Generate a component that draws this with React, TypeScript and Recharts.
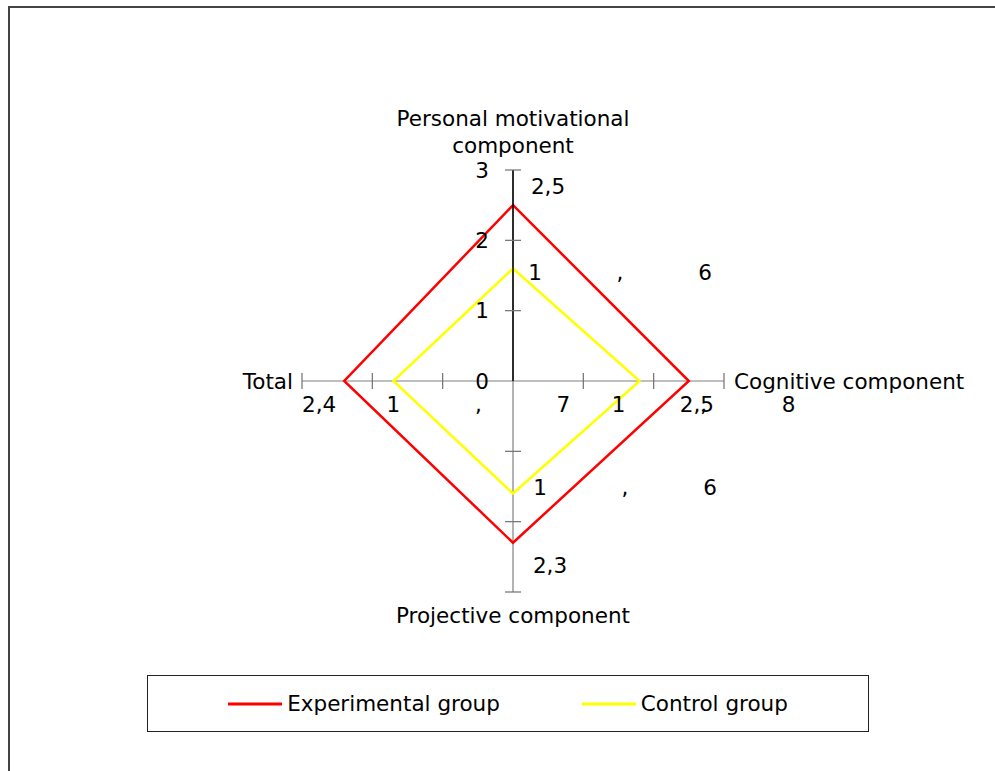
import { RadarChart, Radar, PolarGrid, PolarAngleAxis, PolarRadiusAxis, Legend } from 'recharts'

const categories = [
  'Personal motivational component',
  'Cognitive component',
  'Projective component',
  'Total',
]
const experimental = [2.5, 2.5, 2.3, 2.4]
const control = [1.6, 1.8, 1.6, 1.7]
const seriesNames = ['Experimental group', 'Control group']
const radiusDomain = [0, 3]

const data = categories.map((category, i) => ({
  category,
  experimental: experimental[i],
  control: control[i],
}))

const FONT = '"DejaVu Sans", sans-serif'
const FS = 21.5
const CX = 503
const CY = 373
const R = 211
const GREY = '#808080'

const fmt = (v: number) => String(v).replace('.', ',')

// label offsets from each point, per axis (top, right, bottom, left)
const expOffsets = [[35, -19], [8, 23], [37, 23], [-25, 23]]
const ctrlOffsets = [[22, 4], [-21, 23], [27, -6], [0, 23]]
const CHAR_GAP = 85

const ExpLabel = (props: any) => {
  const { x, y, value, index } = props
  const [dx, dy] = expOffsets[index] ?? [0, 0]
  return (
    <text x={x + dx} y={y + dy} textAnchor="middle" dominantBaseline="central" fontFamily={FONT} fontSize={FS} fill="#000">
      {fmt(value)}
    </text>
  )
}

// the control labels come out spread apart in the original
const CtrlLabel = (props: any) => {
  const { x, y, value, index } = props
  const [dx, dy] = ctrlOffsets[index] ?? [0, 0]
  return (
    <g>
      {fmt(value).split('').map((ch, k) => (
        <text key={k} x={x + dx + k * CHAR_GAP} y={y + dy} textAnchor="middle" dominantBaseline="central" fontFamily={FONT} fontSize={FS} fill="#000">
          {ch}
        </text>
      ))}
    </g>
  )
}

const RadiusTick = (props: any) => {
  const { y, payload } = props
  const r = payload.coordinate
  const t = 8
  return (
    <g>
      {r > 0 && (
        <g stroke="#707070" strokeWidth={1.2}>
          <line x1={CX - t} y1={CY - r} x2={CX + t} y2={CY - r} />
          <line x1={CX - t} y1={CY + r} x2={CX + t} y2={CY + r} />
          <line x1={CX + r} y1={CY - t} x2={CX + r} y2={CY + t} />
          <line x1={CX - r} y1={CY - t} x2={CX - r} y2={CY + t} />
        </g>
      )}
      <text x={CX - 31} y={y} textAnchor="middle" dominantBaseline="central" fontFamily={FONT} fontSize={FS} fill="#000">
        {payload.value}
      </text>
    </g>
  )
}

const AngleTick = (props: any) => {
  const { payload, index } = props
  const common = { fontFamily: FONT, fontSize: FS, fill: '#000', dominantBaseline: 'central' as const }
  if (index === 0) {
    return (
      <text x={CX} y={CY - R} textAnchor="middle" {...common}>
        <tspan x={CX} dy={-52}>Personal motivational</tspan>
        <tspan x={CX} dy={27}>component</tspan>
      </text>
    )
  }
  if (index === 1) return <text x={CX + R + 10} y={CY} textAnchor="start" {...common}>{payload.value}</text>
  if (index === 2) return <text x={CX} y={CY + R + 23} textAnchor="middle" {...common}>{payload.value}</text>
  return <text x={CX - R - 9} y={CY} textAnchor="end" {...common}>{payload.value}</text>
}

const LegendBox = (props: any) => {
  const items = [...(props.payload ?? [])].sort(
    (a: any, b: any) => seriesNames.indexOf(a.value) - seriesNames.indexOf(b.value),
  )
  return (
    <div style={{
      boxSizing: 'border-box', width: 722, height: 57, border: '1px solid #222',
      display: 'flex', alignItems: 'center', justifyContent: 'center', gap: 82,
      fontFamily: FONT, fontSize: FS, color: '#000',
    }}>
      {items.map((it: any) => (
        <div key={it.value} style={{ display: 'flex', alignItems: 'center' }}>
          <svg width={54} height={4}><line x1={0} y1={2} x2={54} y2={2} stroke={it.color} strokeWidth={3} /></svg>
          <span style={{ marginLeft: 5 }}>{it.value}</span>
        </div>
      ))}
    </div>
  )
}

export default function App() {
  return (
    <div style={{
      position: 'absolute', left: 8, top: 6, width: 987, height: 765, boxSizing: 'border-box',
      borderLeft: '2px solid #444', borderTop: '2px solid #444', background: '#fff',
    }}>
      <RadarChart width={980} height={760} data={data} cx={CX} cy={CY} outerRadius={R} startAngle={90} endAngle={-270}>
        <PolarGrid gridType="polygon" radialLines polarRadius={[]} stroke={GREY} strokeWidth={1.2} />
        <PolarAngleAxis dataKey="category" tick={AngleTick} axisLine={false} tickLine={false} />
        <PolarRadiusAxis
          angle={90}
          type="number"
          domain={radiusDomain}
          tickCount={4}
          axisLine={{ stroke: '#000', strokeWidth: 1.5 }}
          tick={RadiusTick}
        />
        <Radar name={seriesNames[0]} dataKey="experimental" stroke="#ff0000" strokeWidth={2.5} fill="none" fillOpacity={0}
          dot={false} isAnimationActive={false} label={ExpLabel} />
        <Radar name={seriesNames[1]} dataKey="control" stroke="#ffff00" strokeWidth={2.5} fill="none" fillOpacity={0}
          dot={false} isAnimationActive={false} label={CtrlLabel} />
        <Legend content={LegendBox} wrapperStyle={{ left: 137, top: 667, width: 722, height: 57, bottom: 'auto' }} />
      </RadarChart>
    </div>
  )
}
